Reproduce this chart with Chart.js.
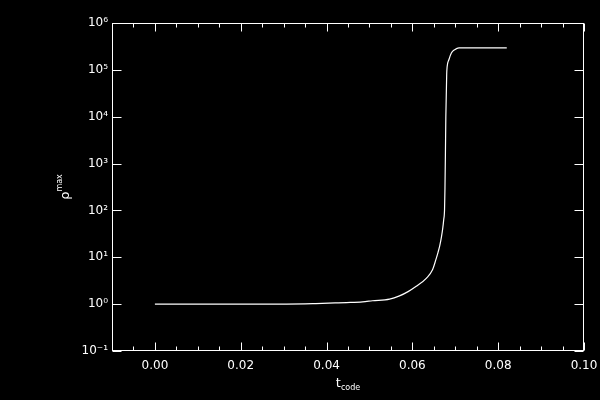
<!DOCTYPE html>
<html><head><meta charset="utf-8">
<script src="https://cdn.jsdelivr.net/npm/chart.js@4.4.1/dist/chart.umd.min.js"></script>
<style>html,body{margin:0;padding:0;background:#000;}#wrap{width:600px;height:400px;}</style>
</head><body><div id="wrap"><canvas id="c" width="600" height="400"></canvas></div>
<script>
// ---- data ----
const tCode  = [0.000, 0.010, 0.020, 0.030, 0.0350, 0.0375, 0.0420, 0.0447, 0.0484, 0.0507, 0.0547, 0.0570, 0.0590, 0.0609, 0.0633, 0.0647, 0.0655, 0.0660, 0.0664, 0.0668, 0.0671, 0.0673, 0.0675, 0.0676, 0.0677, 0.0678, 0.0680, 0.0681, 0.06853, 0.06909, 0.06986, 0.07086, 0.0820];
const rhoMax = [1.0, 1.0, 1.0, 1.005, 1.015, 1.03, 1.06, 1.08, 1.12, 1.18, 1.28, 1.5, 1.85, 2.4, 3.6, 5.4, 9.0, 12.9, 18, 28, 43, 63, 105, 300, 1500, 1e4, 8e4, 1.15e5, 1.66e5, 2.3e5, 2.7e5, 2.95e5, 2.95e5];
const xTickValues = [0.00, 0.02, 0.04, 0.06, 0.08, 0.10];
const xTickLabels = ['0.00', '0.02', '0.04', '0.06', '0.08', '0.10'];
const yTickValues = [0.1, 1, 10, 100, 1e3, 1e4, 1e5, 1e6];
const yTickLabels = ['10\u207B\u00B9', '10\u2070', '10\u00B9', '10\u00B2', '10\u00B3', '10\u2074', '10\u2075', '10\u2076'];
const xTitleMain = 't', xTitleSub = 'code';
const yTitleMain = '\u03C1', yTitleSup = 'max';

const FONT = '"DejaVu Sans", sans-serif';

const framePlugin = {
  id: 'idlFrame',
  beforeDraw(chart) {
    const ctx = chart.ctx;
    ctx.save(); ctx.fillStyle = '#000'; ctx.fillRect(0, 0, chart.width, chart.height); ctx.restore();
  },
  afterDraw(chart) {
    const ctx = chart.ctx, a = chart.chartArea, xs = chart.scales.x, ys = chart.scales.y;
    const L = Math.round(a.left) + 0.5, R = Math.round(a.right) - 0.5, T = Math.round(a.top) + 0.5, B = Math.round(a.bottom) - 0.5;
    ctx.save();
    ctx.strokeStyle = '#fff'; ctx.lineWidth = 1;
    ctx.strokeRect(L, T, R - L, B - T);
    ctx.beginPath();
    for (let k = -2; k <= 20; k++) {
      const v = k * 0.005;
      if (v < xs.min - 1e-9 || v > xs.max + 1e-9) continue;
      const px = Math.round(xs.getPixelForValue(v)) + 0.5;
      const major = xTickValues.some(m => Math.abs(m - v) < 1e-9);
      const len = major ? 8 : 4;
      ctx.moveTo(px, B); ctx.lineTo(px, B - len);
      ctx.moveTo(px, T); ctx.lineTo(px, T + len);
    }
    yTickValues.forEach(v => {
      const py = Math.round(ys.getPixelForValue(v)) + 0.5;
      ctx.moveTo(L, py); ctx.lineTo(L + 9, py);
      ctx.moveTo(R, py); ctx.lineTo(R - 9, py);
    });
    ctx.stroke();

    ctx.fillStyle = '#fff';
    ctx.textBaseline = 'alphabetic'; ctx.textAlign = 'left';
    ctx.font = '13px ' + FONT;
    const wMain = ctx.measureText(xTitleMain).width;
    ctx.font = '8px ' + FONT;
    const wSub = ctx.measureText(xTitleSub).width;
    const cx = (a.left + a.right) / 2;
    const x0 = cx - (wMain + wSub) / 2;
    ctx.font = '13px ' + FONT;
    ctx.fillText(xTitleMain, x0, 387);
    ctx.font = '8px ' + FONT;
    ctx.fillText(xTitleSub, x0 + wMain, 389.5);
    ctx.translate(69, (a.top + a.bottom) / 2);
    ctx.rotate(-Math.PI / 2);
    ctx.font = '13px ' + FONT;
    const wR = ctx.measureText(yTitleMain).width;
    ctx.font = '8px ' + FONT;
    const wS = ctx.measureText(yTitleSup).width;
    const y0 = -(wR + wS) / 2;
    ctx.font = '13px ' + FONT;
    ctx.fillText(yTitleMain, y0, 0);
    ctx.font = '8px ' + FONT;
    ctx.fillText(yTitleSup, y0 + wR, -7);
    ctx.restore();
  }
};

new Chart(document.getElementById('c'), {
  type: 'line',
  data: {
    datasets: [{
      data: tCode.map((t, i) => ({ x: t, y: rhoMax[i] })),
      borderColor: '#fff',
      borderWidth: 1.2,
      pointRadius: 0,
      fill: false,
      cubicInterpolationMode: 'monotone'
    }]
  },
  options: {
    responsive: false,
    animation: false,
    devicePixelRatio: 1,
    layout: { padding: { left: 0, right: 16, top: 23, bottom: 0 } },
    plugins: { legend: { display: false }, tooltip: { enabled: false } },
    scales: {
      x: {
        type: 'linear', min: -0.01, max: 0.10,
        afterBuildTicks: s => { s.ticks = xTickValues.map(v => ({ value: v })); },
        afterFit: s => { s.height = 49; s.paddingLeft = 0; s.paddingRight = 0; },
        grid: { display: false, drawTicks: false },
        border: { display: false },
        ticks: { padding: 8, color: '#fff', font: { family: FONT, size: 12 }, maxRotation: 0, autoSkip: false,
                 callback: (v, i) => xTickLabels[i] }
      },
      y: {
        type: 'logarithmic', min: 0.1, max: 1e6,
        afterBuildTicks: s => { s.ticks = yTickValues.map(v => ({ value: v })); },
        afterFit: s => { s.width = 112; s.paddingTop = 0; s.paddingBottom = 0; },
        grid: { display: false, drawTicks: false },
        border: { display: false },
        ticks: { padding: 4, color: '#fff', font: { family: FONT, size: 12 }, autoSkip: false,
                 callback: (v, i) => yTickLabels[i] }
      }
    }
  },
  plugins: [framePlugin]
});
</script>
</body></html>
